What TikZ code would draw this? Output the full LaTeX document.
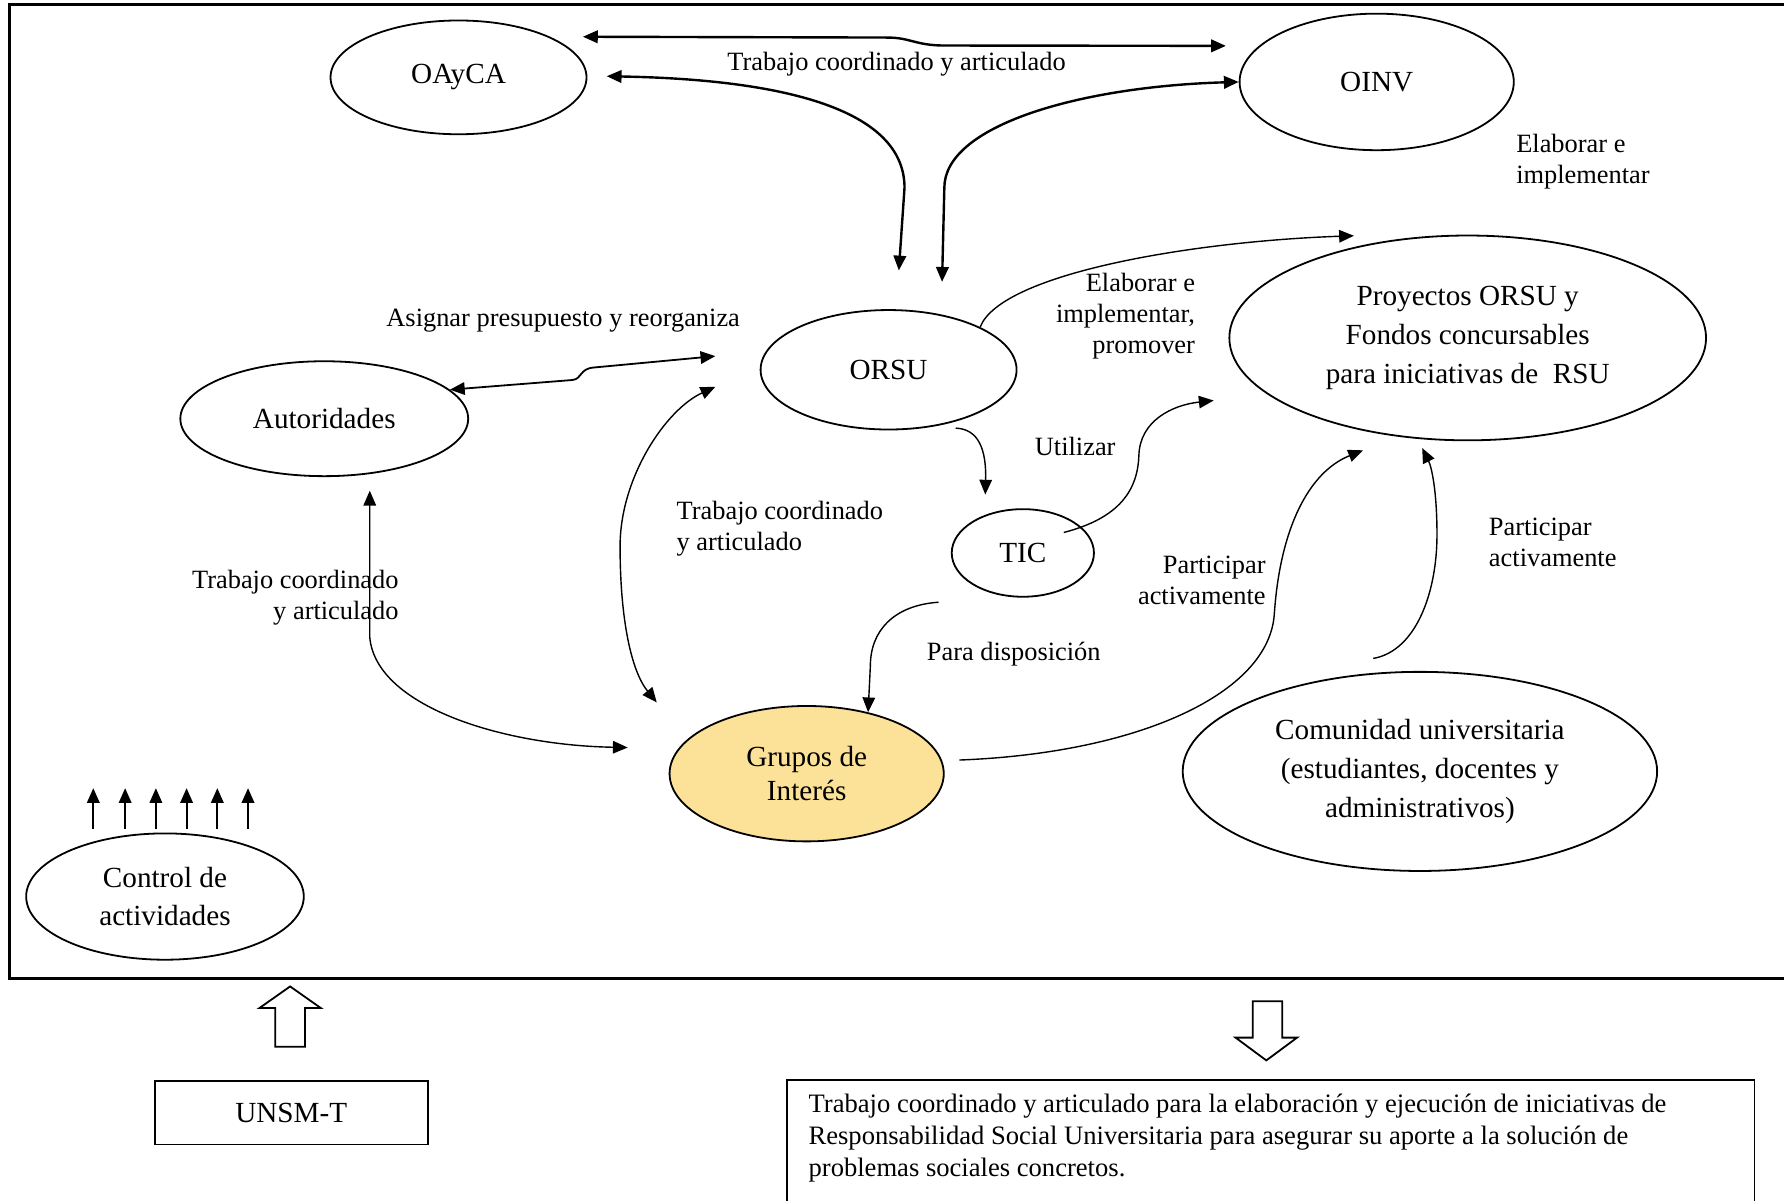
\documentclass[tikz,border=0pt]{standalone}
\usepackage{fontspec}
\setmainfont{Liberation Serif}
\usetikzlibrary{arrows.meta, calc, shapes, positioning}
\definecolor{amarillo}{RGB}{251,226,152}

\begin{document}
\begin{tikzpicture}[x=0.1mm, y=-0.1mm,
    elip/.style={draw, ellipse, line width=0.45pt, inner sep=0pt, align=center,
      font=\fontsize{7.3pt}{9.7pt}\selectfont},
    etiq/.style={inner sep=0pt, font=\fontsize{6.6pt}{7.7pt}\selectfont},
    flecha/.style={line width=0.35pt, -{Triangle[length=1.3mm, width=1.1mm]}},
    doble/.style={line width=0.35pt,
      {Triangle[length=1.3mm, width=1.1mm]}-{Triangle[length=1.3mm, width=1.1mm]}},
    gruesa/.style={line width=0.6pt}]
  \useasboundingbox (0,0) rectangle (1568,1055);

  % marco
  \draw[line width=0.7pt] (1600,4) -- (8,4) -- (8,860) -- (1600,860);

  % elipses
  \node[elip, minimum width=22.5mm, minimum height=10mm] (oayca) at (403,68) {OAyCA};
  \node[elip, minimum width=24.1mm, minimum height=12mm] (oinv) at (1210,72) {OINV};
  \node[elip, minimum width=22.5mm, minimum height=10.5mm] (orsu) at (781,325) {ORSU};
  \node[elip, minimum width=25.3mm, minimum height=10.1mm] (autor) at (285,368) {Autoridades};
  \node[elip, minimum width=41.9mm, minimum height=18mm] (proy) at (1290,297)
    {Proyectos ORSU y\\Fondos concursables\\para iniciativas de\ \ RSU};
  \node[elip, minimum width=12.5mm, minimum height=7.7mm] (tic) at (899,486) {TIC};
  \node[elip, fill=amarillo, minimum width=24.1mm, minimum height=11.9mm,
    font=\fontsize{7.3pt}{8.6pt}\selectfont] (grupos) at (709,680) {Grupos de\\Interés};
  \node[elip, minimum width=41.7mm, minimum height=17.5mm] (comun) at (1248,678)
    {Comunidad universitaria\\(estudiantes, docentes y\\administrativos)};
  \node[elip, minimum width=24.4mm, minimum height=11.1mm] (ctrl) at (145,788)
    {Control de\\actividades};

  % cuadros de abajo
  \node[draw, line width=0.45pt, minimum width=24mm, minimum height=5.6mm,
    font=\fontsize{7.3pt}{8pt}\selectfont] (unsm) at (256,978) {UNSM-T};
  \draw[line width=0.45pt] (692,1070) |- (1542,949) -- (1542,1070);
  \node[etiq, anchor=west, align=left, font=\fontsize{6.65pt}{8pt}\selectfont] (resumen) at (710,1000)
    {Trabajo coordinado y articulado para la elaboración y ejecución de iniciativas de\\
     Responsabilidad Social Universitaria para asegurar su aporte a la solución de\\
     problemas sociales concretos.};

  % etiquetas
  \node[etiq] (ltrab) at (788,56) {Trabajo coordinado y articulado};
  \node[etiq] (lasig) at (495,282) {Asignar presupuesto y reorganiza};
  \node[etiq, anchor=west, align=left] (lelab) at (1332,142) {Elaborar e\\implementar};
  \node[etiq, anchor=east, align=right] (lprom) at (1051,278) {Elaborar e\\implementar,\\promover};
  \node[etiq] (lutil) at (945,392) {Utilizar};
  \node[etiq, anchor=west, align=left] (ltrabg) at (594,465) {Trabajo coordinado\\y articulado};
  \node[etiq, anchor=east, align=right] (ltraba) at (351,525) {Trabajo coordinado\\y articulado};
  \node[etiq] (ldisp) at (891,575) {Para disposición};
  \node[etiq, anchor=east, align=right] (lpartg) at (1113,510) {Participar\\activamente};
  \node[etiq, anchor=west, align=left] (lpartc) at (1308,477) {Participar\\activamente};

  % conectores
  \draw[doble, gruesa, shorten <=2.9mm, shorten >=2.9mm]
    (oayca.24) -- (780,33) .. controls (800,33) and (805,40) .. (830,40) -- (oinv.163);
  \draw[doble, gruesa] ($(oayca.east)+(17,-1)$) .. controls (700,70) and (795,100)
    .. (795,165) -- ($(orsu.north)+(9,-34)$);
  \draw[doble, gruesa] (oinv.west) .. controls (950,76) and (830,110)
    .. (830,165) -- ($(orsu.north)+(47,-24)$);
  \draw[doble, line width=0.45pt] (autor.13) -- (503,334) .. controls (512,333) and (509,324)
    .. (522,323) -- ($(orsu.west)+(-39,-12)$);
  \draw[doble] ($(orsu.west)+(-39,15)$) .. controls (585,360) and (545,420) .. (545,480)
    .. controls (545,545) and (555,590) .. ($(grupos.north west)+(-46,-20)$);
  \draw[doble] ($(autor.south)+(40,12)$) -- (325,560) .. controls (330,620) and (440,655)
    .. ($(grupos.west)+(-36,-23)$);
  \draw[flecha] ($(orsu.south)+(59,-2)$) .. controls (860,377) and (867,395)
    .. ($(tic.north)+(-33,-12)$);
  \draw[flecha] ($(tic.center)+(36,-18)$) .. controls (985,455) and (1000,430) .. (1001,400)
    .. controls (1002,370) and (1030,356) .. ($(proy.west)+(-13,55)$);
  \draw[flecha] (orsu.25) .. controls (880,240) and (1050,212) .. ($(proy.north)+(-100,1)$);
  \draw[flecha] ($(tic.south)+(-74,4)$) .. controls (785,532) and (765,555) .. (765,585)
    -- (grupos.45);
  \draw[flecha] ($(grupos.east)+(13,-12)$) .. controls (1000,662) and (1115,610) .. (1120,540)
    .. controls (1125,465) and (1150,415) .. ($(proy.south)+(-92,8)$);
  \draw[flecha] ($(comun.north)+(-41,-11)$) .. controls (1245,572) and (1263,520) .. (1263,470)
    .. controls (1263,430) and (1258,410) .. ($(proy.south)+(-40,6)$);
  \foreach \dx in {-63,-35,-8,19,46,73}
    \draw[flecha, line width=0.5pt] ($(ctrl.north)+(\dx,-3)$) -- ++(0,-36);

  % flechas de bloque
  \draw[line width=0.45pt] (242,920) -- (242,886) -- (228,886) -- (255,867) -- (282,886)
    -- (268,886) -- (268,920) -- cycle;
  \draw[line width=0.45pt] (1101,880) -- (1101,912) -- (1086,912) -- (1113,932) -- (1140,912)
    -- (1127,912) -- (1127,880) -- cycle;
\end{tikzpicture}
\end{document}
